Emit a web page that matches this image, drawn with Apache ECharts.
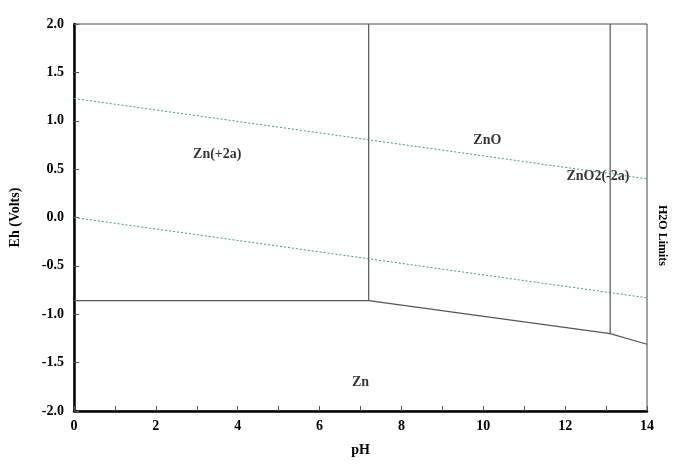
<!DOCTYPE html>
<html><head><meta charset="utf-8">
<script src="https://cdn.jsdelivr.net/npm/echarts@6/dist/echarts.min.js"></script>
<style>html,body{margin:0;padding:0;background:#fff}#c{width:686px;height:473px}</style>
</head><body><div id="c"></div>
<script>
const waterUpper = [[0, 1.23], [14, 0.40]];
const waterLower = [[0, 0.0], [14, -0.83]];
const znBoundary = [[0, -0.86], [7.2, -0.86], [13.1, -1.20], [14, -1.31]];
const vertZnO = [[7.2, -0.86], [7.2, 2.0]];
const vertZnO2 = [[13.1, -1.20], [13.1, 2.0]];
const labels = [
  {name: 'Zn(+2a)', value: [3.5, 0.65]},
  {name: 'ZnO', value: [10.1, 0.8]},
  {name: 'ZnO2(-2a)', value: [12.8, 0.42]},
  {name: 'Zn', value: [7.0, -1.7]}
];
const font = 'Liberation Serif';
const chart = echarts.init(document.getElementById('c'));
const solid = d => ({type:'line', data:d, symbol:'none', silent:true, lineStyle:{color:'#555', width:1.2}});
const dotted = d => ({type:'line', data:d, symbol:'none', silent:true, lineStyle:{color:'#3a9a8a', width:1, type:[2,2]}});
chart.setOption({
  animation:false,
  grid:{left:73, right:39, top:24, bottom:62, show:true, borderColor:'#444', borderWidth:1},
  xAxis:{type:'value', min:0, max:14, interval:2, name:'pH', nameLocation:'middle', nameGap:32,
    nameTextStyle:{fontFamily:font, fontWeight:'bold', fontSize:14, color:'#000'},
    axisLine:{onZero:false, lineStyle:{color:'#000', width:2.5}}, axisTick:{inside:true, length:5, lineStyle:{color:'#555'}},
    minorTick:{show:true, splitNumber:2, length:5, lineStyle:{color:'#555'}},
    splitLine:{show:false}, axisLabel:{fontFamily:font, fontWeight:'bold', fontSize:14, color:'#000', margin:8}},
  yAxis:{type:'value', min:-2, max:2, interval:0.5, name:'Eh (Volts)', nameLocation:'middle', nameGap:52,
    nameTextStyle:{fontFamily:font, fontWeight:'bold', fontSize:14, color:'#000'},
    axisLine:{onZero:false, lineStyle:{color:'#000', width:2.5}}, axisTick:{inside:true, length:5, lineStyle:{color:'#555'}},
    splitLine:{show:false}, axisLabel:{fontFamily:font, fontWeight:'bold', fontSize:14, color:'#000', margin:10,
      formatter:v=>v.toFixed(1)}},
  graphic:[{type:'text', left:656, top:205, rotation:-Math.PI/2, style:{text:'H2O Limits', fontFamily:font, fontWeight:'bold', fontSize:12, fill:'#000'}}],
  series:[
    dotted(waterUpper), dotted(waterLower),
    solid(znBoundary), solid(vertZnO), solid(vertZnO2),
    {type:'scatter', data:labels, symbolSize:0, silent:true,
      label:{show:true, position:'inside', formatter:p=>p.name, fontFamily:font, fontWeight:'bold', fontSize:14, color:'#000'}}
  ]
});
</script></body></html>
